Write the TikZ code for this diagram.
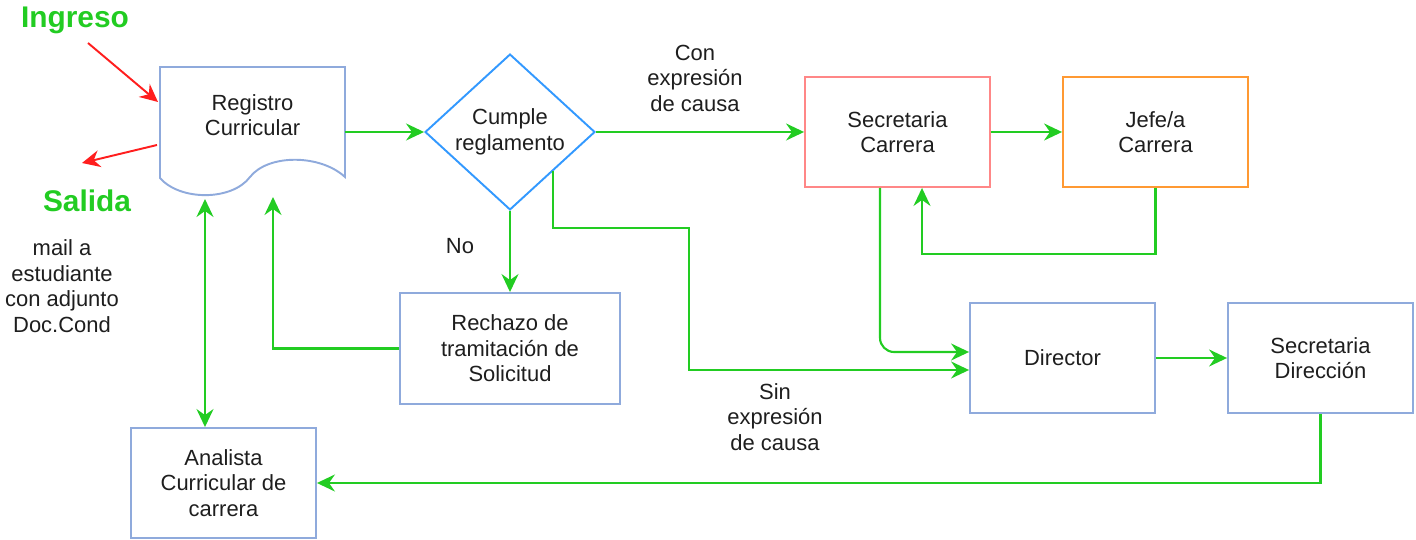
\documentclass[tikz,border=0pt]{standalone}
\usepackage{fontspec}
\setmainfont{Liberation Sans}
\usetikzlibrary{shapes.geometric,arrows.meta,calc}
\definecolor{flowgreen}{RGB}{34,204,34}
\definecolor{boxblue}{RGB}{143,170,220}
\definecolor{diablue}{RGB}{51,153,255}
\definecolor{pinkred}{RGB}{255,135,135}
\definecolor{jefeorange}{RGB}{255,153,51}
\definecolor{arrowred}{RGB}{255,30,30}
\definecolor{txtgray}{RGB}{30,30,30}

\begin{document}
\begin{tikzpicture}[x=0.02cm,y=-0.02cm,
  font=\fontsize{12.5}{14.5}\selectfont, text=txtgray,
  >={Stealth[length=3.6mm,width=3.4mm,inset=1.2mm]},
  box/.style={draw=boxblue,line width=1.1pt,minimum width=3.7cm,minimum height=2.2cm,align=center},
  decision/.style={diamond,draw=diablue,line width=1.1pt,inner sep=0pt,minimum width=3.4cm,minimum height=2.94cm,align=center},
  flow/.style={draw=flowgreen,line width=1.2pt,->},
  redflow/.style={draw=arrowred,line width=1.1pt,->},
  tag/.style={text=flowgreen,font=\fontsize{17}{20}\selectfont\bfseries}]
  \useasboundingbox (0,0) rectangle (1416,540);

  %registro curricular (document shape)
  \draw[draw=boxblue,line width=1.1pt] (160,67) -- (345,67) -- (345,177)
    .. controls (320,154) and (268,154) .. (250,177)
    .. controls (232,201) and (180,201) .. (160,178) -- cycle;
  \node[align=center,minimum width=3.7cm] (reg) at (252.5,115) {Registro\\Curricular};

  %decision
  \node[decision] (dia) at (510,132) {Cumple\\reglamento};

  %boxes
  \node[box,draw=pinkred] (sec) at (897.5,132) {Secretaria\\Carrera};
  \node[box,draw=jefeorange] (jefe) at (1155.5,132) {Jefe/a\\Carrera};
  \node[box] (dir) at (1062.5,358) {Director};
  \node[box] (sdir) at (1320.5,358) {Secretaria\\Direcci\'on};
  \node[box,minimum width=4.4cm,minimum height=2.22cm] (rech) at (510,348.5) {Rechazo de\\tramitaci\'on de\\Solicitud};
  \node[box] (ana) at (223.5,483) {Analista\\Curricular de\\carrera};

  %labels
  \node[tag] (ing) at (75,20) {Ingreso};
  \node[tag] (sal) at (87,201) {Salida};
  \node[align=center] (mail) at (62,286) {mail a\\estudiante\\con adjunto\\Doc.Cond};
  \node (no) at (460,246) {No};
  \node[align=center] (con) at (695,78) {Con\\expresi\'on\\de causa};
  \node[align=center] (sin) at (775,417) {Sin\\expresi\'on\\de causa};

  %ingreso / salida
  \coordinate (ingA) at (88,43);
  \coordinate (ingB) at (158,102);
  \coordinate (salA) at (157,145);
  \coordinate (salB) at (82,163);
  \draw[redflow] (ingA) -- (ingB);
  \draw[redflow] (salA) -- (salB);

  %main flow
  \draw[flow] (reg.east |- dia) -- (dia.west);
  \draw[flow] (dia.east) -- (sec.west);
  \draw[flow] (dia.south) -- (rech.north);
  \coordinate (dexit) at ($(dia.east)!0.5!(dia.south)$);
  \draw[flow] (dexit) |- ++(136,57) |- ($(dir.west)+(0,12)$);
  \draw[flow] (sec.east) -- (jefe.west);
  \draw[flow] (jefe.south) |- ++(0,66) -| ($(sec.south)+(24.5,0)$);
  \draw[flow,rounded corners=8] ($(sec.south)+(-17.5,0)$) |- ($(dir.west)+(0,-6)$);
  \draw[flow] (dir.east) -- (sdir.west);
  \draw[flow] (sdir.south) |- (ana.east);

  %back to registro
  \coordinate (regin1) at (205,199);
  \coordinate (regin2) at (273,197);
  \draw[flow] (rech.west) -| (regin2);
  \draw[flow,<->] (regin1) -- (regin1 |- ana.north);
\end{tikzpicture}
\end{document}
